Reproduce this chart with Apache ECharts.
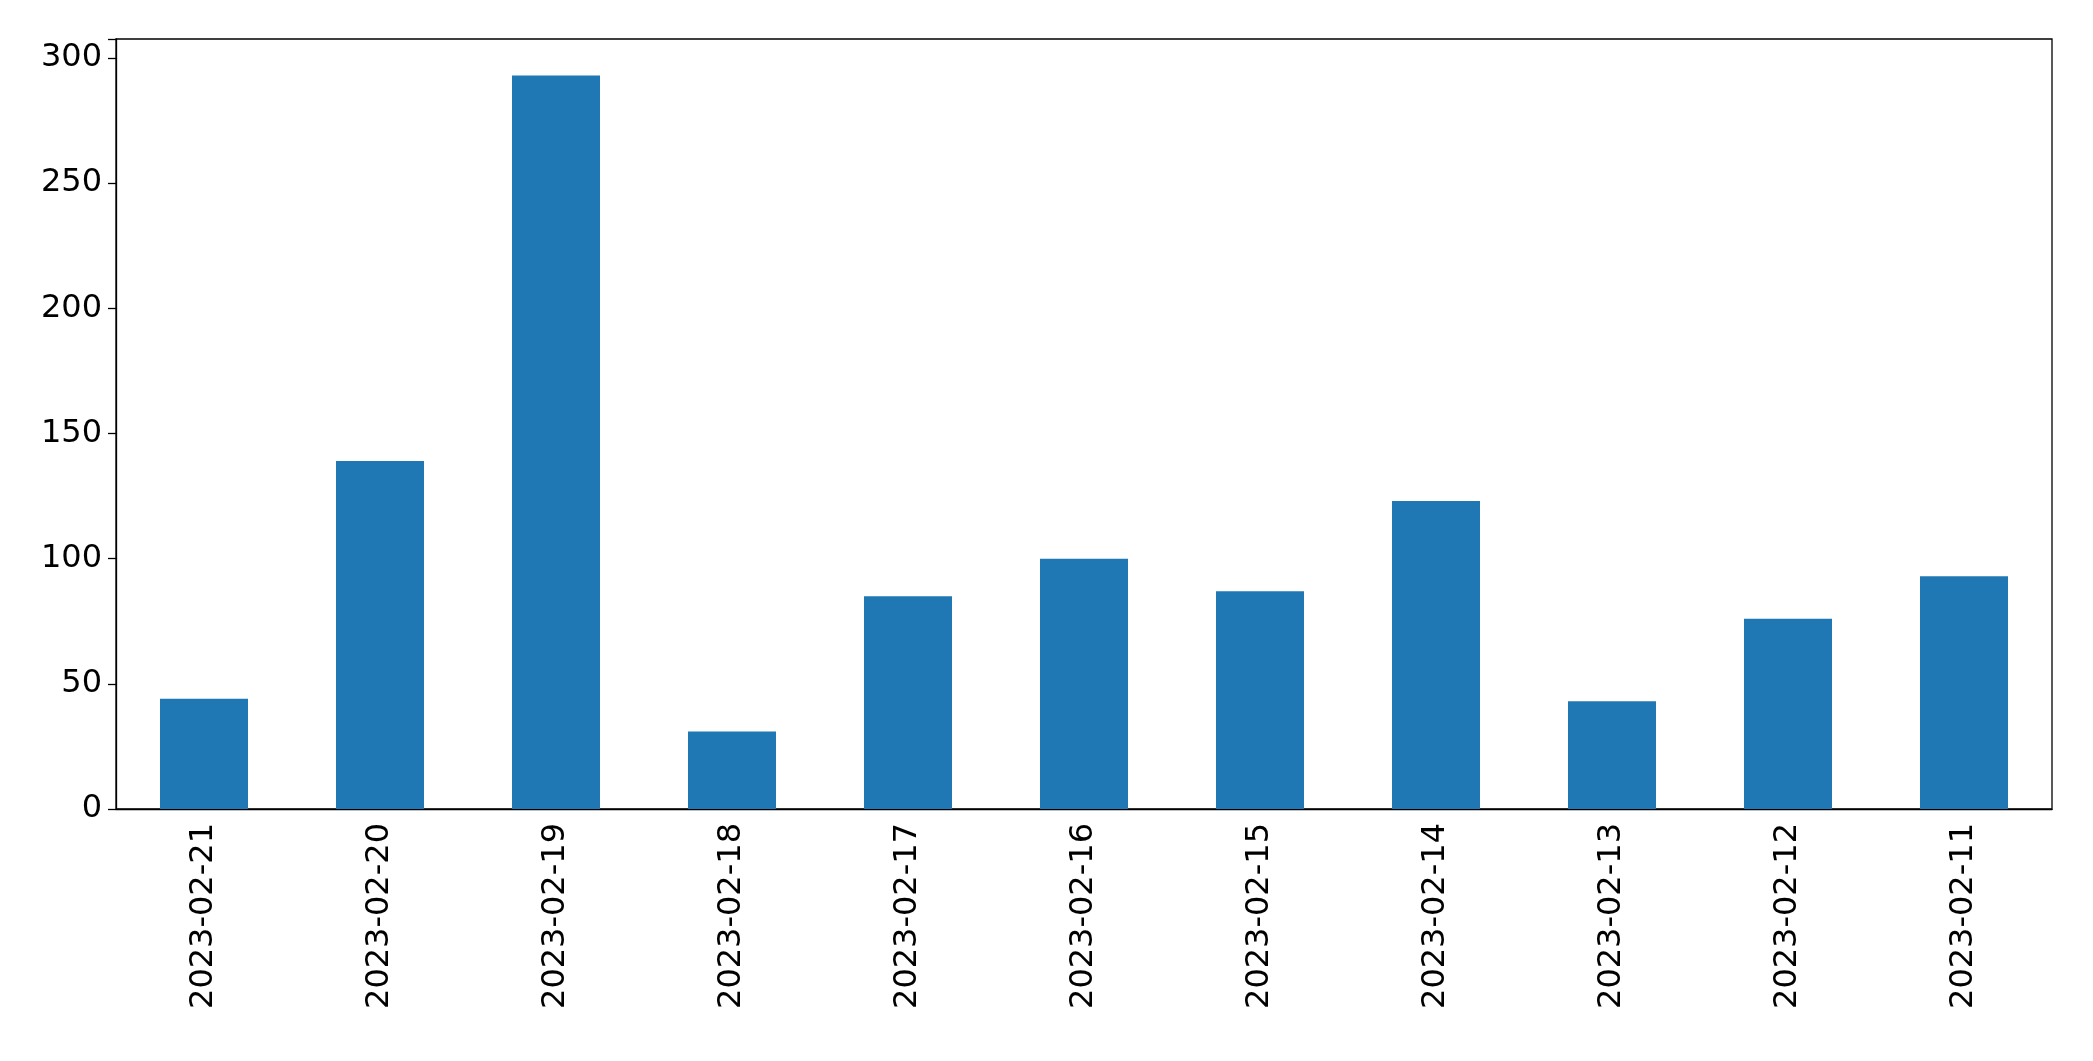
<!DOCTYPE html>
<html><head><meta charset="utf-8">
<script src="https://cdn.jsdelivr.net/npm/echarts@6/dist/echarts.min.js"></script>
<style>html,body{margin:0;background:#fff}#c{width:2093px;height:1061px}</style>
</head><body><div id="c"></div>
<script>
const categories = ["2023-02-21","2023-02-20","2023-02-19","2023-02-18","2023-02-17","2023-02-16","2023-02-15","2023-02-14","2023-02-13","2023-02-12","2023-02-11"];
const values = [44, 139, 293, 31, 85, 100, 87, 123, 43, 76, 93];
const chart = echarts.init(document.getElementById('c'));
chart.setOption({
  animation:false,
  grid:{left:116,right:41,top:39,bottom:252,show:true,borderColor:'#000',borderWidth:1.3},
  xAxis:{type:'category',data:categories,
    axisLine:{lineStyle:{color:'#000',width:1.3}},
    axisTick:{alignWithLabel:true,length:8,lineStyle:{color:'#000',width:1.3}},
    axisLabel:{rotate:90,fontSize:32,color:'#000',fontFamily:'DejaVu Sans',margin:14}},
  yAxis:{type:'value',min:0,max:307.6,interval:50,
    splitLine:{show:false},
    axisLine:{show:true,lineStyle:{color:'#000',width:1.3}},
    axisTick:{show:true,length:8,lineStyle:{color:'#000',width:1.3}},
    axisLabel:{fontSize:32,color:'#000',fontFamily:'DejaVu Sans',margin:14,
      formatter:v=>(v%50===0?v:'')}},
  series:[{type:'bar',data:values,barWidth:'50%',itemStyle:{color:'#1f77b4'}}]
});
</script></body></html>
